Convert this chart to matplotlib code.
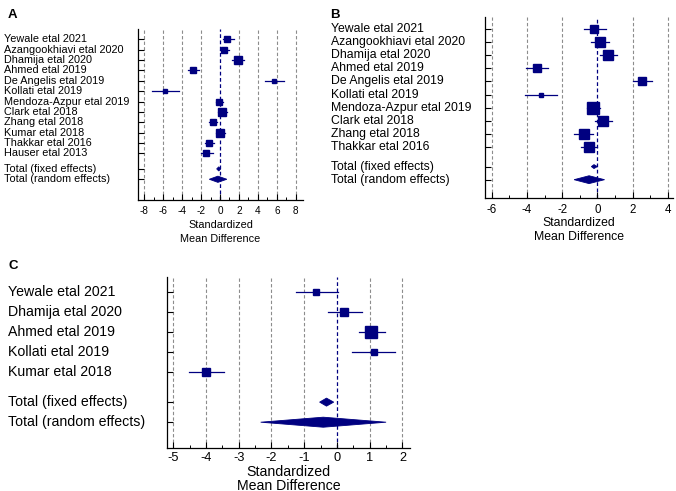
import numpy as np
import matplotlib.pyplot as plt
from matplotlib.patches import Polygon
from matplotlib.ticker import MultipleLocator
from matplotlib.transforms import blended_transform_factory

plt.rcParams['font.family'] = ['Liberation Sans', 'DejaVu Sans']

NAVY = '#000080'
GRID = '#8c8c8c'
H = 491.0

# ---- Panel A data ----
studies_a = ["Yewale etal 2021", "Azangookhiavi etal 2020", "Dhamija etal 2020",
             "Ahmed etal 2019", "De Angelis etal 2019", "Kollati etal 2019",
             "Mendoza-Azpur etal 2019", "Clark etal 2018", "Zhang etal 2018",
             "Kumar etal 2018", "Thakkar etal 2016", "Hauser etal 2013"]
smd_a = [0.73, 0.38, 1.85, -2.82, 5.68, -5.85, -0.10, 0.24, -0.73, 0.0, -1.15, -1.46]
lo_a = [0.28, 0.0, 1.30, -3.35, 4.77, -7.18, -0.42, -0.17, -1.18, -0.42, -1.60, -2.02]
hi_a = [1.46, 0.95, 2.55, -2.26, 6.76, -4.36, 0.31, 0.70, -0.28, 0.52, -0.63, -0.73]
weight_a = [5.7, 9.1, 10.8, 9.1, 4.5, 3.7, 9.1, 10.8, 8.1, 15.2, 8.1, 5.7]
fixed_a = [-0.13, -0.35, 0.07]      # estimate, lower, upper
random_a = [-0.22, -1.13, 0.72]

# ---- Panel B data ----
studies_b = ["Yewale etal 2021", "Azangookhiavi etal 2020", "Dhamija etal 2020",
             "Ahmed etal 2019", "De Angelis etal 2019", "Kollati etal 2019",
             "Mendoza-Azpur etal 2019", "Clark etal 2018", "Zhang etal 2018",
             "Thakkar etal 2016"]
smd_b = [-0.19, 0.13, 0.61, -3.43, 2.55, -3.22, -0.27, 0.30, -0.78, -0.46]
lo_b = [-0.76, -0.36, 0.15, -4.04, 2.00, -4.11, -0.60, -0.13, -1.31, -0.93]
hi_b = [0.48, 0.69, 1.14, -2.78, 3.12, -2.27, 0.15, 0.82, -0.23, -0.04]
weight_b = [6.6, 12.5, 10.2, 8.7, 6.6, 3.1, 18.1, 12.5, 10.8, 10.8]
fixed_b = [-0.19, -0.34, 0.0]
random_b = [-0.47, -1.32, 0.41]

# ---- Panel C data ----
studies_c = ["Yewale etal 2021", "Dhamija etal 2020", "Ahmed etal 2019",
             "Kollati etal 2019", "Kumar etal 2018"]
smd_c = [-0.63, 0.21, 1.05, 1.13, -4.0]
lo_c = [-1.26, -0.27, 0.67, 0.46, -4.51]
hi_c = [0.02, 0.77, 1.48, 1.77, -3.45]
weight_c = [8.9, 20.1, 41.9, 8.9, 20.1]
fixed_c = [-0.32, -0.53, -0.10]
random_c = [-0.42, -2.33, 1.50]

fig = plt.figure(figsize=(6.76, 4.91), dpi=100)


def draw_panel(rect, names, est, lo, hi, weight, fixed, rand, ticks, xlim,
               ylim, fs, tfs, scale, label_x, dh, minor, xlab_px, tpad):
    ax = fig.add_axes(rect)
    n = len(names)
    ys = list(range(n)) + [n + 0.5, n + 1.5]
    labels = names + ["Total (fixed effects)", "Total (random effects)"]

    # reference lines
    for t in ticks:
        if t == 0:
            ax.axvline(0, color=NAVY, lw=0.9, ls=(0, (3, 2)), zorder=1)
        else:
            ax.axvline(t, color=GRID, lw=0.8, ls=(0, (3, 2)), zorder=1)

    # studies
    for i in range(n):
        ax.plot([lo[i], hi[i]], [i, i], color=NAVY, lw=0.9, zorder=2)
        ms = scale * np.sqrt(weight[i]) / 1.389
        ax.plot(est[i], i, marker='s', ms=ms, color=NAVY, mec=NAVY, zorder=3)

    # pooled diamonds
    for (e, l, h), y, half in [(fixed, n + 0.5, dh[0]), (rand, n + 1.5, dh[1])]:
        ax.add_patch(Polygon([(l, y), (e, y - half), (h, y), (e, y + half)],
                             closed=True, fc=NAVY, ec=NAVY, lw=0.6, zorder=3))

    ax.set_xlim(xlim)
    ax.set_ylim(ylim)
    ax.set_xticks(ticks)
    ax.set_xticklabels([str(t) for t in ticks])
    ax.xaxis.set_minor_locator(MultipleLocator(minor))
    ax.set_yticks(ys)
    ax.set_yticklabels([])
    ax.tick_params(axis='y', direction='in', length=4, width=0.8)
    ax.tick_params(axis='x', which='major', direction='in', length=4,
                   width=0.8, labelsize=tfs, pad=tpad)
    ax.tick_params(axis='x', which='minor', direction='in', length=2.5, width=0.7)
    for s in ['top', 'right']:
        ax.spines[s].set_visible(False)
    for s in ['left', 'bottom']:
        ax.spines[s].set_linewidth(0.9)

    trans = blended_transform_factory(fig.transFigure, ax.transData)
    for y, lab in zip(ys, labels):
        ax.text(label_x, y, lab, transform=trans, ha='left', va='center',
                fontsize=fs)

    # two-line axis title under the ticks
    xt = blended_transform_factory(ax.transAxes, fig.transFigure)
    for line, py in zip(["Standardized", "Mean Difference"], xlab_px):
        ax.text(0.5, 1 - py / H, line, transform=xt, ha='center',
                va='center', fontsize=fs)
    return ax


draw_panel([0.2041, 0.5927, 0.2441, 0.3482], studies_a, smd_a, lo_a, hi_a,
           weight_a, fixed_a, random_a, [-8, -6, -4, -2, 0, 2, 4, 6, 8],
           (-8.65, 8.75), (15.5, -1.0), 7.8, 7.2, 2.23, 0.006, (0.2, 0.3), 1,
           (225.5, 238.5), 4)

draw_panel([0.7175, 0.5967, 0.2781, 0.3687], studies_b, smd_b, lo_b, hi_b,
           weight_b, fixed_b, random_b, [-6, -4, -2, 0, 2, 4],
           (-6.38, 4.3), (12.9, -0.92), 8.8, 8.3, 2.82, 0.49, (0.15, 0.3), 1,
           (223.5, 237.5), 4)

draw_panel([0.2466, 0.0882, 0.3599, 0.3483], studies_c, smd_c, lo_c, hi_c,
           weight_c, fixed_c, random_c, [-5, -4, -3, -2, -1, 0, 1, 2],
           (-5.2, 2.23), (7.77, -0.75), 10.2, 9.2, 2.0, 0.012, (0.2, 0.25), 0.5,
           (472, 485.5), 3)

fig.text(0.012, 0.982, "A", fontsize=9.5, fontweight='bold', va='top')
fig.text(0.488, 0.982, "B", fontsize=9.5, fontweight='bold', va='top')
fig.text(0.012, 0.47, "C", fontsize=9.5, fontweight='bold', va='top')

fig.savefig("out.png", dpi=100)
